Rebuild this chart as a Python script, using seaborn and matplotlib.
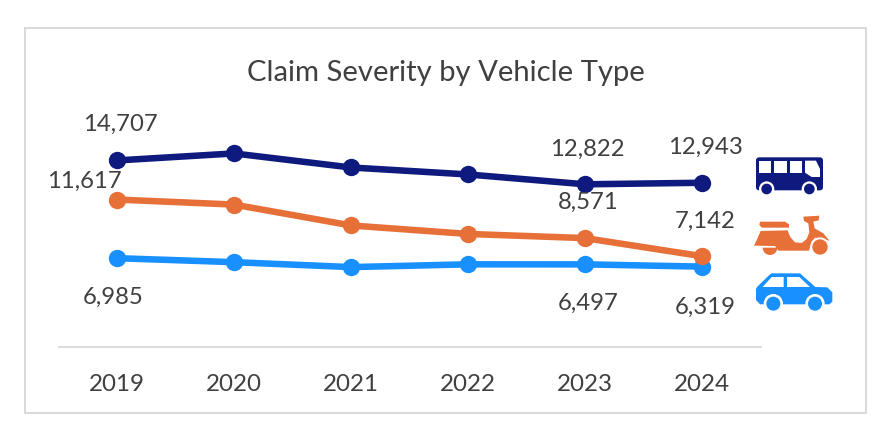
import matplotlib
matplotlib.use("Agg")
import matplotlib.pyplot as plt
import seaborn as sns
import pandas as pd
from matplotlib.patches import Circle, FancyBboxPatch, Polygon, Rectangle, Wedge

years = ["2019", "2020", "2021", "2022", "2023", "2024"]
bus = [14707, 15260, 14150, 13600, 12822, 12943]
scooter = [11617, 11220, 9570, 8900, 8571, 7142]
car = [6985, 6670, 6280, 6500, 6497, 6319]
title = "Claim Severity by Vehicle Type"

BUS, ORANGE, BLUE = "#0E1A7D", "#E76F38", "#1890FF"
TEXT = "#404040"
GRID = "#D9D9D9"
W, H = 891, 442

sns.set_theme(style="white")
plt.rcParams["font.family"] = ["Lato", "DejaVu Sans"]

df = pd.DataFrame({"year": years * 3,
                   "value": bus + scooter + car,
                   "type": ["Bus"] * 6 + ["Scooter"] * 6 + ["Car"] * 6})

fig = plt.figure(figsize=(W / 100, H / 100), dpi=100, facecolor="white")
ax = fig.add_axes([58.5 / W, (H - 346.6) / H, 702 / W, 247 / H])
sns.lineplot(data=df, x="year", y="value", hue="type", sort=False, ax=ax,
             palette={"Bus": BUS, "Scooter": ORANGE, "Car": BLUE},
             hue_order=["Car", "Scooter", "Bus"],
             linewidth=4.7, marker="o", markersize=12.5, markeredgewidth=0,
             legend=False, errorbar=None, clip_on=False)
ax.set_xlim(-0.5, 5.5)
ax.set_ylim(0, 19513)
ax.set_xlabel("")
ax.set_ylabel("")
ax.set_yticks([])
ax.tick_params(axis="x", length=0, pad=20, labelsize=17.4, labelcolor=TEXT)
for s in ["top", "left", "right"]:
    ax.spines[s].set_visible(False)
ax.spines["bottom"].set_color(GRID)
ax.spines["bottom"].set_linewidth(1.3)
ax.patch.set_alpha(0)

# value labels: (series, index, x offset px, y offset px)
label_specs = [(bus, 0, 3, 36), (scooter, 0, -33, 18), (car, 0, -4, -39),
               (bus, 4, 2, 35), (scooter, 4, 3, 36), (car, 4, 3, -39),
               (bus, 5, 3, 35), (scooter, 5, 3, 35), (car, 5, 3, -41)]
for series, i, dx, dy in label_specs:
    ax.annotate(f"{series[i]:,}", (i, series[i]), xytext=(dx, dy),
                textcoords="offset pixels", ha="center", va="center",
                fontsize=17.2, color=TEXT)

fig.text(445.5 / W, 1 - 73 / H, title, ha="center", va="center",
         fontsize=21.1, color=TEXT)

# overlay in pixel coordinates for the frame and pictograms
ov = fig.add_axes([0, 0, 1, 1], zorder=-1)
ov.set_xlim(0, W)
ov.set_ylim(H, 0)
ov.axis("off")
ov.add_patch(Rectangle((25, 28), 841, 385, fill=False, ec=GRID, lw=1.4))

ic = fig.add_axes([0, 0, 1, 1], zorder=5)
ic.set_xlim(0, W)
ic.set_ylim(H, 0)
ic.axis("off")
ic.patch.set_alpha(0)

def Z(pts):
    return [(740 + x / 3, 145 + y / 3) for x, y in pts]

def wheel(zx, zy, r, ring, color):
    cx, cy = Z([(zx, zy)])[0]
    ic.add_patch(Circle((cx, cy), ring / 3, fc="white", ec="none", zorder=3))
    ic.add_patch(Circle((cx, cy), r / 3, fc=color, ec="none", zorder=4))

# bus
x0, y0 = Z([(48, 37)])[0]
ic.add_patch(FancyBboxPatch((x0 + 3, y0 + 3), 61, 27, boxstyle="round,pad=3",
                            fc=BUS, ec="none"))
for a, b in [(57, 93), (103, 140), (149, 186)]:
    ic.add_patch(Polygon(Z([(a, 47), (b, 47), (b, 83), (a, 83)]), fc="white", ec="none", zorder=2))
ic.add_patch(Polygon(Z([(195, 47), (228, 47), (240, 72), (240, 96), (215, 96), (195, 83)]),
                     fc="white", ec="none", zorder=2))
wheel(80, 132, 16, 23, BUS)
wheel(208, 132, 16, 23, BUS)

# scooter
ic.add_patch(Polygon(Z([(60, 230), (135, 230), (147, 238), (147, 248), (66, 248), (58, 240)]),
                     fc=ORANGE, ec="none"))
ic.add_patch(Polygon(Z([(190, 215), (238, 212), (236, 226), (220, 230), (224, 250), (250, 265),
                        (268, 287), (225, 278), (215, 290), (207, 317), (115, 317),
                        (105, 303), (42, 302), (48, 290), (62, 258), (143, 256), (150, 275),
                        (165, 292), (185, 294), (200, 282), (208, 262), (205, 235), (192, 228)]),
                     fc=ORANGE, ec="none"))
ic.add_patch(Wedge(Z([(90, 308)])[0], 22 / 3, 0, 180, fc=ORANGE, ec="none"))
wheel(240, 306, 23, 29, ORANGE)

# car
ic.add_patch(Polygon(Z([(52, 425), (88, 390), (95, 385), (180, 385), (226, 426), (262, 427),
                        (277, 442), (277, 470), (268, 478), (60, 478), (48, 465), (48, 432)]),
                     fc=BLUE, ec="none"))
ic.add_patch(Polygon(Z([(68, 426), (95, 396), (131, 396), (131, 426)]), fc="white", ec="none", zorder=2))
ic.add_patch(Polygon(Z([(141, 396), (178, 396), (210, 426), (141, 426)]), fc="white", ec="none", zorder=2))
wheel(100, 476, 21, 29, BLUE)
wheel(225, 476, 21, 29, BLUE)

fig.savefig("out.png", dpi=100, facecolor="white")
